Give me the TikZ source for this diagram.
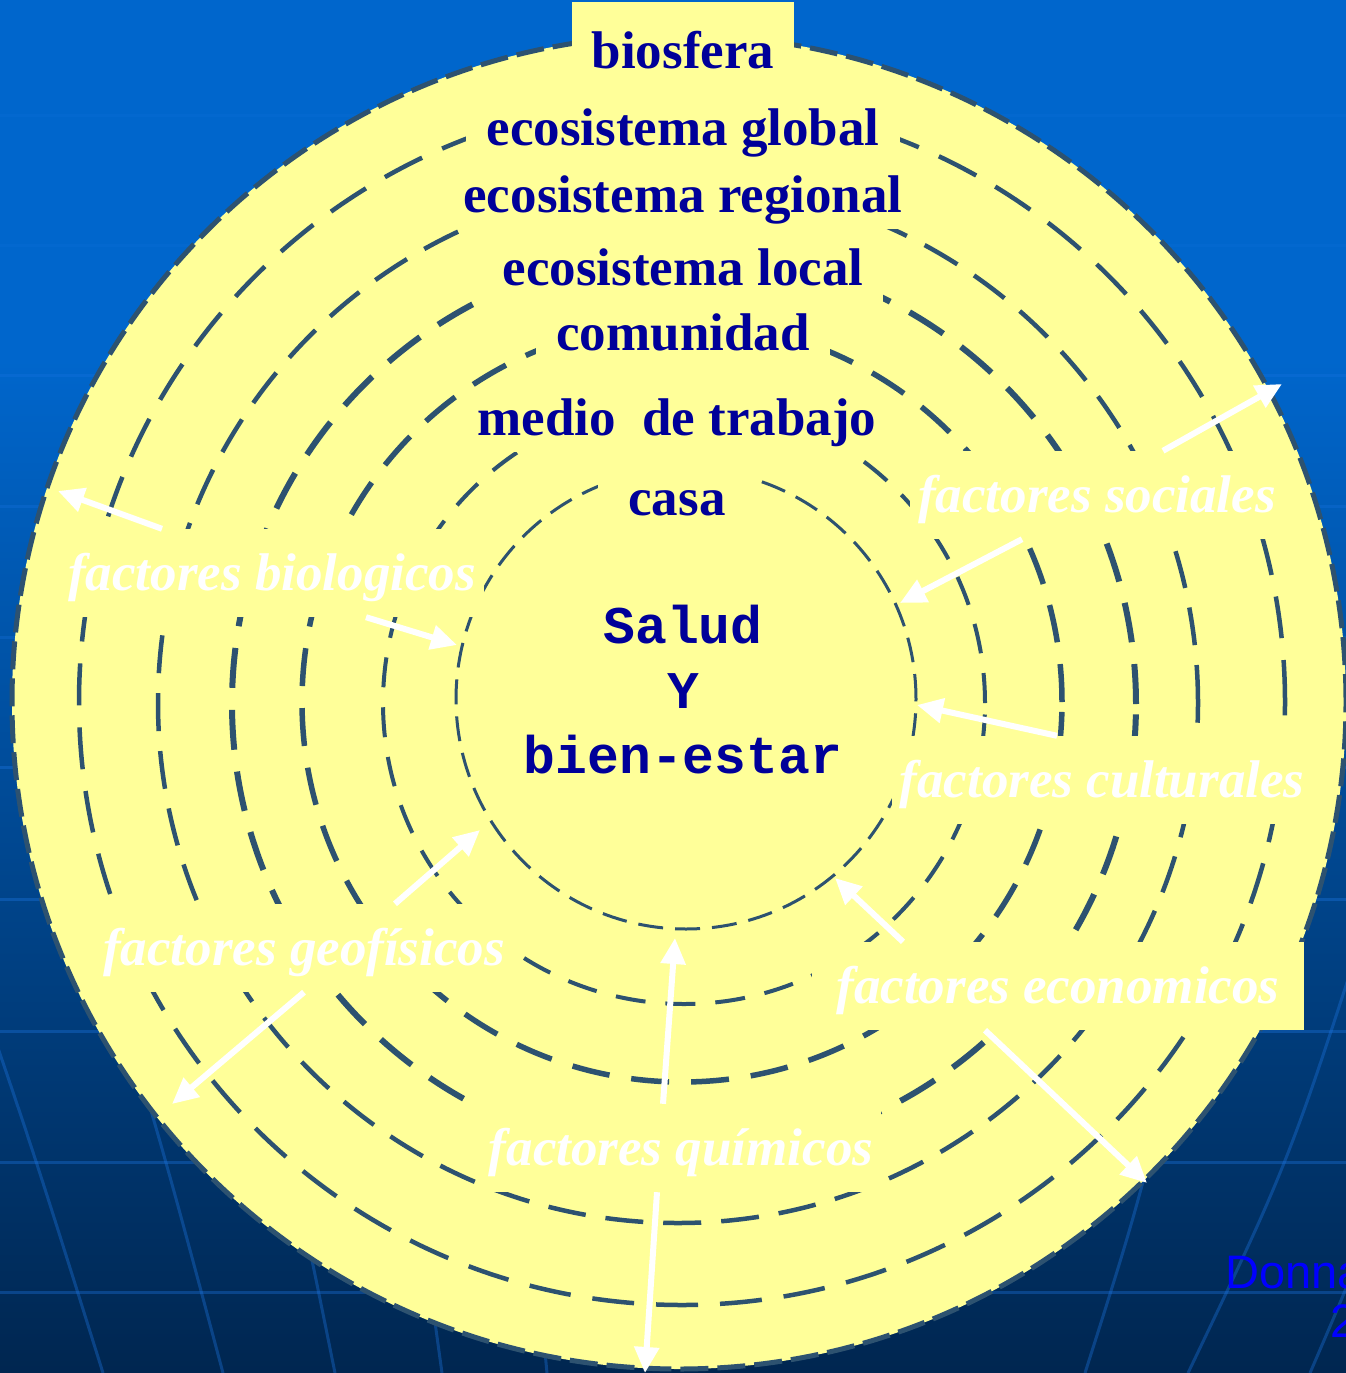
\documentclass[tikz,border=0pt]{standalone}
\usepackage{fontspec}
\setmainfont{Liberation Serif}
\newfontfamily\monofam{Liberation Mono}
\newfontfamily\sansfam{Liberation Sans}
\usetikzlibrary{arrows.meta}

\definecolor{skytop}{RGB}{0,102,204}
\definecolor{skymid}{RGB}{0,70,138}
\definecolor{skybot}{RGB}{0,38,80}
\definecolor{gridblue}{RGB}{30,120,230}
\definecolor{paleyellow}{RGB}{255,255,153}
\definecolor{ringcol}{RGB}{45,82,112}
\definecolor{labelblue}{RGB}{0,0,153}
\definecolor{signblue}{RGB}{0,0,255}

\tikzset{
  ringlabel/.style={fill=paleyellow, text=labelblue, font=\fontsize{53}{60}\selectfont\bfseries,
    inner xsep=20pt, inner ysep=4pt, text height=40pt, text depth=13pt, anchor=base},
  factorbox/.style={fill=paleyellow, text=white, font=\fontsize{53}{60}\selectfont\bfseries\itshape,
    inner xsep=8pt, inner ysep=17pt, text height=44pt, text depth=10pt, anchor=base},
  ringline/.style={draw=ringcol, line width=#1},
  gridline/.style={draw=gridblue, opacity=#1, line width=3pt},
  gridline/.default=0.35,
  facarrow/.style={draw=white, line width=6pt, -{Triangle[length=26pt,width=24pt]}},
}

\begin{document}
\begin{tikzpicture}[x=1pt, y=-1pt]
    \useasboundingbox (0,0) rectangle (1346,1373);

    % Background
    \fill[skytop] (0,0) rectangle (1346,362);
    \shade[top color=skytop, middle color=skymid, bottom color=skybot] (0,360) rectangle (1346,1373);

    % Grid
    \foreach \gy in {115,245}
        \draw[gridline=0.12] (0,\gy) -- (1346,\gy);
    \foreach \gy in {375,506,637}
        \draw[gridline=0.25] (0,\gy) -- (1346,\gy);
    \foreach \gy in {767,899,1031,1162,1292}
        \draw[gridline] (0,\gy) -- (1346,\gy);
    \draw[gridline] (-60,880) .. controls (30,1140) .. (103,1373);
    \draw[gridline] (40,760) .. controls (150,1100) .. (223,1373);
    \draw[gridline] (230,900) .. controls (300,1200) .. (335,1373);
    \draw[gridline] (400,1000) .. controls (425,1250) .. (442,1373);
    \draw[gridline] (530,1100) .. controls (540,1300) .. (547,1373);
    \draw[gridline] (1200,950) .. controls (1140,1200) .. (1085,1373);
    \draw[gridline] (1380,880) .. controls (1290,1160) .. (1188,1373);
    \draw[gridline] (1400,1150) .. controls (1350,1280) .. (1310,1373);

    % Rings
    \coordinate (mid) at (682,702);
    \fill[paleyellow] (679,702) circle[radius=667pt];
    \draw[ringline=5pt, dash pattern=on 28pt off 9pt] (679,702) circle[radius=667pt];
    \draw[ringline=4.5pt, dash pattern=on 42pt off 22pt] (mid) circle[radius=603pt];
    \draw[ringline=4.5pt, dash pattern=on 38pt off 20pt] (678,703) circle[radius=520pt];
    \draw[ringline=6pt, dash pattern=on 40pt off 22pt] (684,704) circle[radius=452pt];
    \draw[ringline=5.5pt, dash pattern=on 38pt off 22pt] (mid) circle[radius=380pt];
    \draw[ringline=4pt, dash pattern=on 30pt off 20pt] (684,703) circle[radius=301pt];
    \draw[ringline=3pt, dash pattern=on 25pt off 12pt] (686,699) circle[radius=230pt];

    % Ring labels
    \node[ringlabel, text height=62pt] (bios) at (683,68) {biosfera};
    \node[ringlabel, text height=56pt] (glob) at (683,145) {ecosistema global};
    \node[ringlabel] (regi) at (683,212) {ecosistema regional};
    \node[ringlabel] (loca) at (683,285) {ecosistema local};
    \node[ringlabel] (comu) at (683,350) {comunidad};
    \node[ringlabel] (medi) at (677,435) {medio\ \ de trabajo};
    \node[ringlabel, inner xsep=30pt, text height=52pt] (casa) at (677,515) {casa};

    % Centre
    \node[text=labelblue, font=\fontsize{53}{65}\selectfont\monofam\bfseries, align=center]
        (salud) at (683,690) {Salud\\Y\\bien-estar};

    % Factor labels
    \node[factorbox] (bio) at (272,590) {factores biologicos};
    \node[factorbox] (soc) at (1097,512) {factores sociales};
    \node[factorbox] (cul) at (1102,797) {factores culturales};
    \node[factorbox] (geo) at (304,965) {factores geofísicos};
    \node[factorbox, inner xsep=24pt] (eco) at (1058,1003) {factores economicos};
    \node[factorbox] (qui) at (681,1165) {factores químicos};

    % Arrow tips
    \coordinate (bioout) at (58,491);
    \coordinate (bioin) at (457,645);
    \coordinate (socout) at (1282,384);
    \coordinate (socin) at (900,603);
    \coordinate (culin) at (917,705);
    \coordinate (geoin) at (480,830);
    \coordinate (geoout) at (172,1104);
    \coordinate (ecoin) at (835,878);
    \coordinate (ecoout) at (1147,1183);
    \coordinate (quiin) at (675,938);
    \coordinate (quiout) at (645,1373);

    % Arrows
    \draw[facarrow] ([xshift=-110pt]bio.north) -- (bioout);
    \draw[facarrow] ([xshift=94pt]bio.south) -- (bioin);
    \draw[facarrow] ([xshift=66pt]soc.north) -- (socout);
    \draw[facarrow] ([xshift=-75pt]soc.south) -- (socin);
    \draw[facarrow] ([xshift=-45pt]cul.north) -- (culin);
    \draw[facarrow] ([xshift=91pt]geo.north) -- (geoin);
    \draw[facarrow] (geo.south) -- (geoout);
    \draw[facarrow] ([xshift=-155pt]eco.north) -- (ecoin);
    \draw[facarrow] ([xshift=-73pt]eco.south) -- (ecoout);
    \draw[facarrow] ([xshift=-18pt]qui.north) -- (quiin);
    \draw[facarrow] ([xshift=-24pt]qui.south) -- (quiout);

    % Signature
    \node[text=signblue, font=\fontsize{47}{50}\selectfont\sansfam, anchor=base west, inner sep=0pt]
        (donna) at (1225,1288) {Donna};
    \node[text=signblue, font=\fontsize{47}{50}\selectfont\sansfam, anchor=base west, inner sep=0pt]
        (year) at (1330,1337) {2};
\end{tikzpicture}
\end{document}
